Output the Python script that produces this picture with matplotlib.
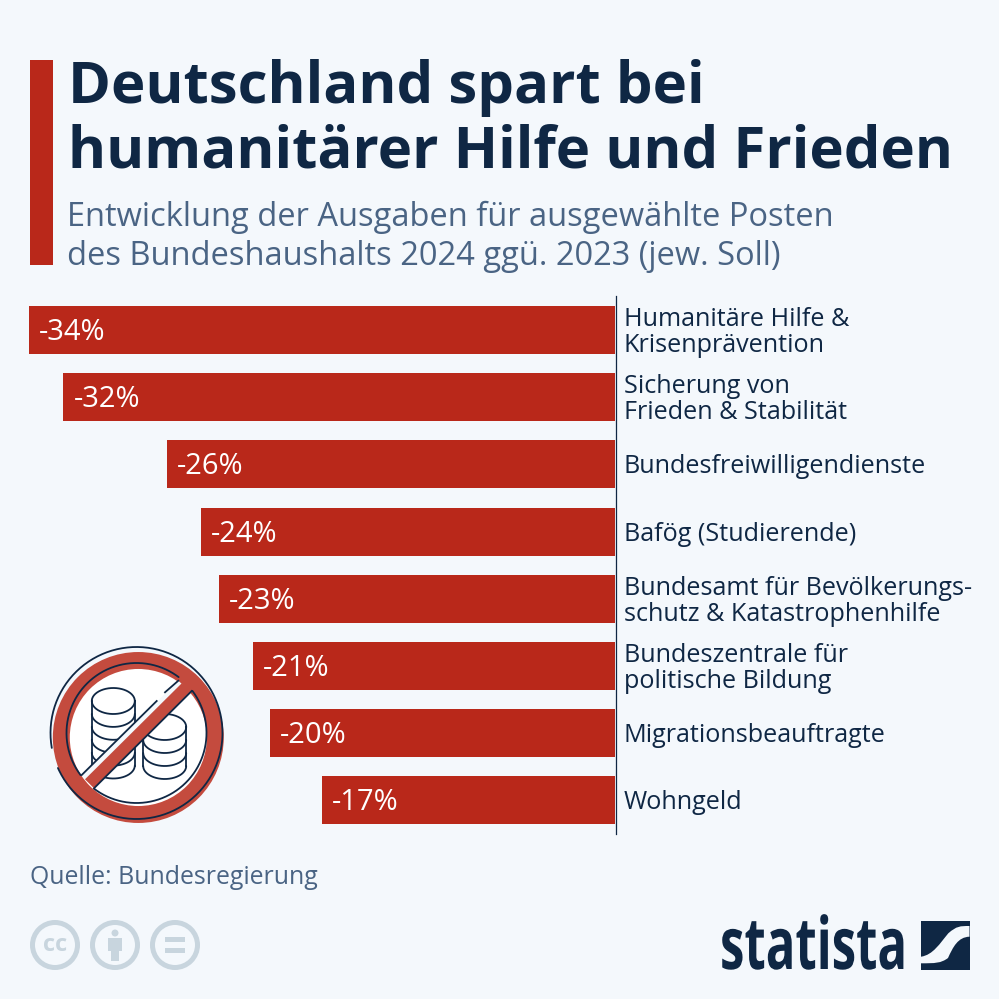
import numpy as np
import matplotlib
matplotlib.use("Agg")
import matplotlib.pyplot as plt
from matplotlib.patches import Rectangle, Circle, Polygon, PathPatch
from matplotlib.path import Path
from matplotlib.patheffects import AbstractPathEffect
from matplotlib.transforms import Affine2D

plt.rcParams['font.family'] = ['Open Sans', 'DejaVu Sans']

categories = [
    "Humanitäre Hilfe &\nKrisenprävention",
    "Sicherung von\nFrieden & Stabilität",
    "Bundesfreiwilligendienste",
    "Bafög (Studierende)",
    "Bundesamt für Bevölkerungs-\nschutz & Katastrophenhilfe",
    "Bundeszentrale für\npolitische Bildung",
    "Migrationsbeauftragte",
    "Wohngeld",
]
values = [-34, -32, -26, -24, -23, -21, -20, -17]

title_lines = ["Deutschland spart bei", "humanitärer Hilfe und Frieden"]
subtitle_lines = ["Entwicklung der Ausgaben für ausgewählte Posten",
                  "des Bundeshaushalts 2024 ggü. 2023 (jew. Soll)"]
source = "Quelle: Bundesregierung"

BG = "#f4f8fc"
RED = "#b9281a"
NAVY = "#0f2744"
SLATE = "#4a6484"
GREY = "#c8d5de"
ICON_RED = "#c44b3e"


class Squeeze(AbstractPathEffect):
    # narrows a text around its left edge, no condensed bold font is installed
    def __init__(self, x0, sx):
        super().__init__()
        self.x0 = x0
        self.sx = sx

    def draw_path(self, renderer, gc, tpath, affine, rgbFace=None):
        squeeze = Affine2D().translate(-self.x0, 0).scale(self.sx, 1).translate(self.x0, 0)
        renderer.draw_path(gc, tpath, affine + squeeze, rgbFace)


fig = plt.figure(figsize=(9.99, 9.99), dpi=100, facecolor=BG)

# overlay in pixel coords for all the furniture
pg = fig.add_axes([0, 0, 1, 1], zorder=3)
pg.set_xlim(0, 999)
pg.set_ylim(999, 0)
pg.axis("off")
pg.patch.set_alpha(0)

# bars, 29..615 px wide and 296..834 px tall
ax = fig.add_axes([29 / 999, 1 - 833.7 / 999, 586 / 999, 537.2 / 999], zorder=2)
ax.patch.set_alpha(0)
pos = np.arange(len(values))
ax.barh(pos, values, height=48 / 67.15, color=RED, linewidth=0)
ax.set_xlim(-34, 0)
ax.set_ylim(len(values) - 0.5, -0.5)
ax.axis("off")
for p, v, c in zip(pos, values, categories):
    ax.annotate(f"{v}%", (v, p), xytext=(10 * 0.72, -1.8), textcoords="offset points",
                color="white", fontsize=21, va="center", ha="left")
    ax.annotate(c, (0, p), xytext=(9 * 0.72, -1.8), textcoords="offset points",
                color=NAVY, fontsize=18.1, va="center", ha="left", linespacing=1.05)
pg.plot([615.5, 615.5], [296, 834], color=NAVY, lw=0.9)

# header
pg.add_patch(Rectangle((30, 60), 23, 205, color=RED, lw=0))
pg.text(68, 103, title_lines[0], fontsize=41.9, fontweight="bold", color=NAVY, va="baseline")
pg.text(68, 168, title_lines[1], fontsize=41.9, fontweight="bold", color=NAVY, va="baseline")
pg.text(67, 226, subtitle_lines[0], fontsize=23.5, color=SLATE, va="baseline")
pg.text(67, 265, subtitle_lines[1], fontsize=23.5, color=SLATE, va="baseline")
pg.text(30, 884, source, fontsize=17.9, color=SLATE, va="baseline")


def arc(cx, cy, rx, ry, a1, a2, **kw):
    t = np.radians(np.linspace(a1, a2, 200))
    pg.plot(cx + rx * np.cos(t), cy + ry * np.sin(t), solid_capstyle="round", **kw)


# forbidden sign with coins
def coin_stack(cx, top, n, step):
    w, h = 43, 26
    style = dict(color=NAVY, lw=1.3, zorder=4)
    arc(cx, top, w / 2, h / 2, 0, 360, **style)
    for i in range(1, n + 1):
        arc(cx, top + i * step, w / 2, h / 2, 0, 180, **style)
    pg.plot([cx - w / 2, cx - w / 2], [top, top + n * step], **style)
    pg.plot([cx + w / 2, cx + w / 2], [top, top + n * step], **style)


cx, cy = 138.3, 737.5
pg.add_patch(Circle((cx, cy), 72, fc="white", ec="none", zorder=3))
coin_stack(113.3, 701, 5, 12.9)
coin_stack(164.7, 727, 3, 13)
pg.add_patch(Circle((cx, cy), 77, fc="none", ec=ICON_RED, lw=12.2, zorder=5))

# diagonal, background strip then red band
pg.add_patch(Polygon([(81.7, 775), (178.3, 680.7), (183, 685), (86, 781)], color=BG, lw=0, zorder=6))
pg.add_patch(Polygon([(85, 779.3), (181.7, 683.3), (191.7, 691), (94, 788.3)], color=ICON_RED, lw=0, zorder=6))

# dark outlines, offset from the red on purpose
line = dict(color=NAVY, lw=1.3, zorder=7)
arc(136.5, 733, 70, 70, 143, 307, **line)
arc(136.5, 733, 70, 70, -37, 127, **line)
arc(136.5, 733, 86, 86, 170, 516, **line)
pg.plot([81.7, 156.7], [775, 701], **line)
pg.plot([165, 178.3], [692.3, 680.7], **line)
pg.plot([94, 191.7], [788.3, 691], **line)

# cc badges
for bx in (55, 115, 175):
    pg.add_patch(Circle((bx, 945), 22.5, fc="none", ec=GREY, lw=3.6))
pg.text(55, 945, "cc", color=GREY, fontsize=17, fontweight="bold", ha="center", va="center")
pg.add_patch(Circle((115, 933), 3.5, color=GREY, lw=0))
pg.add_patch(Rectangle((108, 938), 14, 13, color=GREY, lw=0))
pg.add_patch(Rectangle((111, 950), 8, 11, color=GREY, lw=0))
pg.add_patch(Rectangle((165, 937), 20, 5, color=GREY, lw=0))
pg.add_patch(Rectangle((165, 948), 20, 5, color=GREY, lw=0))

# statista logo
pg.text(720, 969, "statista", color=NAVY, fontsize=52, fontweight="bold", va="baseline", ha="left",
        path_effects=[Squeeze(720, 0.68)])
pg.add_patch(Rectangle((921, 921), 48.5, 48.5, color=NAVY, lw=0))
s = Path([(921, 956.7), (933, 955), (940, 943.3), (948.3, 933.3), (956.7, 926), (960, 926), (969.5, 926),
          (969.5, 936.7), (958, 937), (953, 947), (948, 958), (941, 963.3), (935, 963.3), (921, 963.3),
          (921, 956.7)],
         [Path.MOVETO, Path.CURVE4, Path.CURVE4, Path.CURVE4, Path.CURVE4, Path.CURVE4, Path.CURVE4,
          Path.LINETO, Path.CURVE4, Path.CURVE4, Path.CURVE4, Path.CURVE4, Path.CURVE4, Path.CURVE4,
          Path.CLOSEPOLY])
pg.add_patch(PathPatch(s, fc=BG, ec="none"))

fig.savefig("out.png", dpi=100, facecolor=BG)
